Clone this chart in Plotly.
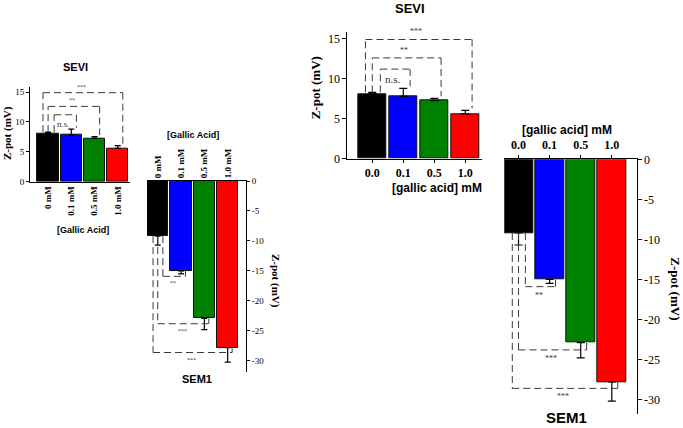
import plotly.graph_objects as go

W, H = 683, 428

# ---------------- data ----------------
conc_small = ["0 mM", "0.1 mM", "0.5 mM", "1.0 mM"]
conc_big = ["0.0", "0.1", "0.5", "1.0"]
bar_colors = ["#000000", "#0000FF", "#008000", "#FF0000"]

sevi_mean = [8.1, 7.8, 7.25, 5.6]
sevi_err = [0.2, 1.0, 0.3, 0.45]
sem1_mean = [-9.2, -15.0, -22.9, -27.8]
sem1_err = [1.5, 0.5, 1.9, 2.4]

# significance brackets: compared bar index, bracket level, label
sevi_sig_idx = [1, 2, 3]
sevi_sig_level = [11.2, 12.6, 14.9]
sevi_sig_label = ["n.s.", "**", "***"]
sem1_sig_idx = [1, 2, 3]
sem1_sig_level = [-15.9, -23.8, -28.6]
sem1_sig_label = ["**", "***", "***"]

SERIF = "Liberation Serif"
SANS = "Liberation Sans"


def px(x):
    return x / W


def py(y):
    return 1 - y / H


fig = go.Figure()
xs = list(range(len(conc_small)))

panels = [
    ("", sevi_mean, sevi_err, True),
    ("2", sem1_mean, sem1_err, False),
    ("3", sevi_mean, sevi_err, True),
    ("4", sem1_mean, sem1_err, False),
]
for suf, m, e, pos in panels:
    fig.add_trace(go.Bar(
        x=xs, y=m, width=0.92,
        marker=dict(color=bar_colors, line=dict(color="#111", width=1)),
        error_y=dict(type="data", symmetric=False,
                     array=e if pos else [0] * len(e),
                     arrayminus=[0] * len(e) if pos else e,
                     color="black", thickness=1.2, width=3 if suf in ("", "2") else 4),
        xaxis="x" + suf, yaxis="y" + suf, showlegend=False, hoverinfo="skip",
    ))

layout = dict(
    width=W, height=H, margin=dict(l=0, r=0, t=0, b=0, pad=0, autoexpand=False),
    paper_bgcolor="white", plot_bgcolor="white", bargap=0,
    showlegend=False,
)

common = dict(showline=True, linecolor="black", linewidth=1, showgrid=False,
              zeroline=False, automargin=False)

layout["xaxis"] = dict(domain=[px(30), px(130)], range=[-0.78, 3.53], anchor="y",
                       tickvals=xs, ticktext=["<b>%s</b>" % c for c in conc_small], tickangle=-90,
                       ticks="", tickfont=dict(family=SERIF, size=9, color="black"), **common)
layout["yaxis"] = dict(domain=[py(181.7), py(86.7)], range=[0, 15.9], anchor="x",
                       tickvals=[0, 5, 10, 15], ticks="outside", ticklen=3, tickcolor="black",
                       tickfont=dict(family=SERIF, size=9, color="black"), **common)
layout["xaxis2"] = dict(domain=[px(147), px(246)], range=[-0.46, 3.785], anchor="y2", side="top",
                        tickvals=xs, ticktext=["<b>%s</b>" % c for c in conc_small], tickangle=-90,
                        ticks="", tickfont=dict(family=SERIF, size=9, color="black"), **common)
layout["yaxis2"] = dict(domain=[py(371.7), py(181)], range=[-31.8, 0], anchor="x2", side="right",
                        tickvals=[0, -5, -10, -15, -20, -25, -30],
                        ticktext=["0", "-5", "-10", "-15", "-20", "-25", "-30"],
                        ticks="outside", ticklen=3, tickcolor="black",
                        tickfont=dict(family=SERIF, size=9, color="black"), **common)
layout["xaxis3"] = dict(domain=[px(347.3), px(481.7)], range=[-0.806, 3.53], anchor="y3",
                        tickvals=xs, ticktext=["<b>%s</b>" % c for c in conc_big],
                        ticks="outside", ticklen=3, tickcolor="black", ticklabelstandoff=0,
                        tickfont=dict(family=SERIF, size=12, color="black"), **common)
layout["yaxis3"] = dict(domain=[py(158.7), py(32.3)], range=[0, 15.8], anchor="x3",
                        tickvals=[0, 5, 10, 15], ticks="outside", ticklen=4, tickcolor="black",
                        tickfont=dict(family=SERIF, size=12, color="black"), **common)
layout["xaxis4"] = dict(domain=[px(504.3), px(636.7)], range=[-0.457, 3.80], anchor="y4", side="top",
                        tickvals=xs, ticktext=["<b>%s</b>" % c for c in conc_big],
                        ticks="outside", ticklen=3, tickcolor="black", ticklabelstandoff=2,
                        tickfont=dict(family=SERIF, size=12, color="black"), **common)
layout["yaxis4"] = dict(domain=[py(414), py(159.3)], range=[-31.8, 0], anchor="x4", side="right",
                        tickvals=[0, -5, -10, -15, -20, -25, -30],
                        ticktext=["0", "-5", "-10", "-15", "-20", "-25", "-30"],
                        ticks="outside", ticklen=4, tickcolor="black",
                        tickfont=dict(family=SERIF, size=12, color="black"), **common)
fig.update_layout(**layout)

shapes = []
annots = []
DASH = dict(color="#3a3a3a", width=1, dash="7px,4px")


def seg(suf, x0, y0, x1, y1):
    shapes.append(dict(type="line", xref="x" + suf, yref="y" + suf,
                       x0=x0, y0=y0, x1=x1, y1=y1, line=DASH))


left_off_sevi = [0.26, 0.0, -0.22]
for suf, fs in (("", 6), ("3", 8)):
    base = sevi_mean[0] + sevi_err[0]
    for k, (j, lev, lab) in enumerate(zip(sevi_sig_idx, sevi_sig_level, sevi_sig_label)):
        xl = 0 + left_off_sevi[k]
        xr = j + 0.22
        top_r = sevi_mean[j] + sevi_err[j] + 0.25
        seg(suf, xl, base, xl, lev)
        seg(suf, xl, lev, xr, lev)
        seg(suf, xr, lev, xr, top_r)
        below = lab == "n.s."
        annots.append(dict(x=(xl + xr) / 2 - 0.08, y=lev, xref="x" + suf, yref="y" + suf,
                           text=lab, showarrow=False,
                           yanchor="top" if below else "bottom",
                           yshift=-2 if below else 1,
                           font=dict(family=SERIF, size=fs + (3 if below else 0), color="#333")))

left_off_sem1 = [0.22, 0.0, -0.2]
for suf, fs in (("2", 6), ("4", 8)):
    base = sem1_mean[0]
    for k, (j, lev, lab) in enumerate(zip(sem1_sig_idx, sem1_sig_level, sem1_sig_label)):
        xl = 0 + left_off_sem1[k]
        xr = j + 0.19
        seg(suf, xl, base, xl, lev)
        seg(suf, xl, lev, xr, lev)
        seg(suf, xr, lev, xr, sem1_mean[j])
        annots.append(dict(x=(xl + xr) / 2 - 0.05, y=lev, xref="x" + suf, yref="y" + suf,
                           text=lab, showarrow=False, yanchor="top", yshift=-2,
                           font=dict(family=SERIF, size=fs, color="#333")))


def txt(x, y, s, font, angle=0, yanchor="middle"):
    annots.append(dict(x=px(x), y=py(y), xref="paper", yref="paper", text=s,
                       showarrow=False, textangle=angle, xanchor="center", yanchor=yanchor,
                       font=font))


txt(75, 67.5, "<b>SEVI</b>", dict(family=SANS, size=11, color="black"))
txt(83.3, 230, "<b>[Gallic Acid]</b>", dict(family=SANS, size=9, color="black"))
txt(7, 133, "<b>Z-pot (mV)</b>", dict(family=SERIF, size=11, color="black"), -90)
txt(192.7, 135, "<b>[Gallic Acid]</b>", dict(family=SANS, size=9, color="black"))
txt(276, 281, "<b>Z-pot (mV)</b>", dict(family=SERIF, size=11, color="black"), 90)
txt(196.7, 378.7, "<b>SEM1</b>", dict(family=SANS, size=11, color="black"))
txt(410, 8, "<b>SEVI</b>", dict(family=SANS, size=13, color="black"))
txt(436.7, 187.5, "<b>[gallic acid] mM</b>", dict(family=SANS, size=12, color="black"))
txt(315, 88.3, "<b>Z-pot (mV)</b>", dict(family=SERIF, size=13, color="black"), -90)
txt(566.7, 129.5, "<b>[gallic acid] mM</b>", dict(family=SANS, size=12, color="black"))
txt(566.7, 428, "<b>SEM1</b>", dict(family=SANS, size=15, color="black"), 0, "bottom")
txt(676, 288.3, "<b>Z-pot (mV)</b>", dict(family=SERIF, size=13, color="black"), 90)

fig.update_layout(shapes=shapes, annotations=annots)
fig.write_html("out.html",
               config={"displayModeBar": False},
               post_script="document.body.style.margin='0';document.body.style.padding='0';document.body.style.overflow='hidden';")
